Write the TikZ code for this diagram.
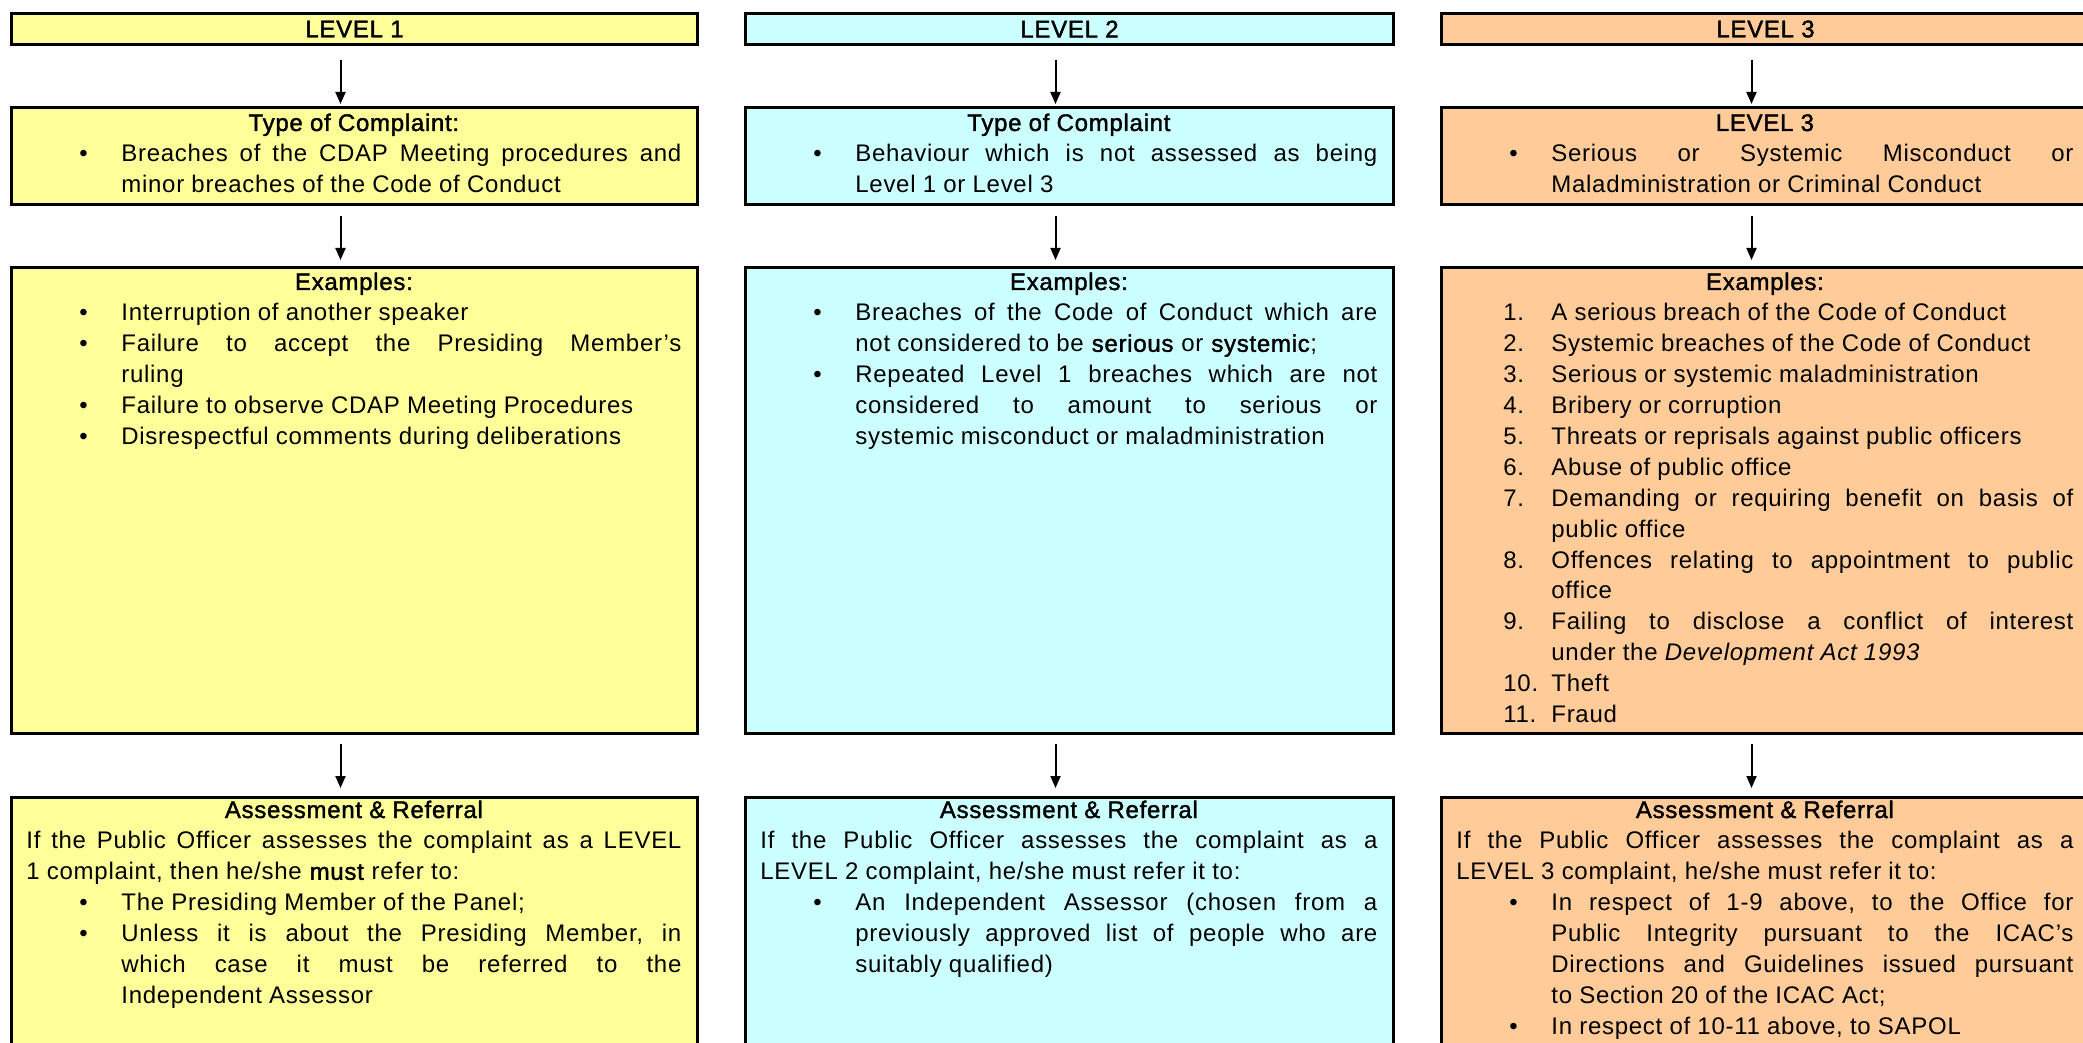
\documentclass[tikz,border=0pt]{standalone}
\usepackage{fontspec}
\setmainfont{Liberation Sans}[LetterSpace=3.0, BoldFont={Liberation Sans}, BoldFeatures={FakeBold=1.6}]
\usetikzlibrary{arrows.meta}
\definecolor{yel}{HTML}{FFFF99}
\definecolor{cya}{HTML}{CCFFFF}
\definecolor{ora}{HTML}{FFCC99}
\newdimen\px \px=0.5pt
\newcommand\boxfont{\fontsize{12pt}{15.45pt}\selectfont\spaceskip=0.3em plus 2em minus 0.05em\xspaceskip=\spaceskip\frenchspacing\tolerance=9999\pretolerance=-1\hbadness=10000\hfuzz=3pt\hyphenpenalty=10000\exhyphenpenalty=10000\parskip=0pt\parindent=0pt}
\newcommand\hd[1]{\makebox[\linewidth]{\bfseries #1}\par}
\newcommand\bul[1]{\par\hangindent=95\px\hangafter=1\noindent\hbox to 95\px{\hskip53\px\textbullet\hss}#1\par}
\newcommand\nit[2]{\par\hangindent=95\px\hangafter=1\noindent\hbox to 95\px{\hskip47\px #1\hss}#2\par}
\newcommand\para[1]{\par\noindent #1\par}
\begin{document}
\begin{tikzpicture}[x=0.5pt,y=0.5pt,
  boxbase/.style={draw=black, line width=1.5pt, rectangle, inner sep=0pt, anchor=north west},
  hdrbox/.style={boxbase, minimum height=15.5pt, font=\boxfont\bfseries},
  wide/.style={minimum width=343pt},
  narrow/.style={minimum width=324pt},
  txt/.style={anchor=base west, inner sep=0pt, font=\boxfont},
  arr/.style={line width=1pt, -{Triangle[length=6pt,width=5pt]}}]
\useasboundingbox (0,0) rectangle (2083,-1043);
\clip (0,0) rectangle (2083,-1043);
\fill[white] (0,0) rectangle (2083,-1043);

% ---------- boxes ----------
\node[hdrbox, wide, fill=yel] (h1) at (10,-12) {LEVEL 1};
\node[hdrbox, narrow, fill=cya] (h2) at (744,-12) {LEVEL 2};
\node[hdrbox, narrow, fill=ora] (h3) at (1440,-12) {LEVEL 3};

\node[boxbase, wide, minimum height=48.5pt, fill=yel] (t1) at (10,-106) {};
\node[boxbase, narrow, minimum height=48.5pt, fill=cya] (t2) at (744,-106) {};
\node[boxbase, narrow, minimum height=48.5pt, fill=ora] (t3) at (1440,-106) {};

\node[boxbase, wide, minimum height=233pt, fill=yel] (e1) at (10,-266) {};
\node[boxbase, narrow, minimum height=233pt, fill=cya] (e2) at (744,-266) {};
\node[boxbase, narrow, minimum height=233pt, fill=ora] (e3) at (1440,-266) {};

\node[boxbase, wide, minimum height=140pt, fill=yel] (a1) at (10,-796) {};
\node[boxbase, narrow, minimum height=140pt, fill=cya] (a2) at (744,-796) {};
\node[boxbase, narrow, minimum height=140pt, fill=ora] (a3) at (1440,-796) {};

% ---------- arrows ----------
\foreach \c in {1,2,3}{
  \draw[arr, shorten <=7pt, shorten >=1pt] ([xshift=-7pt]h\c.south) -- ([xshift=-7pt]t\c.north);
  \draw[arr, shorten <=5pt, shorten >=3pt] ([xshift=-7pt]t\c.south) -- ([xshift=-7pt]e\c.north);
  \draw[arr, shorten <=4.5pt, shorten >=4pt] ([xshift=-7pt]e\c.south) -- ([xshift=-7pt]a\c.north);
}

% ---------- column 1 ----------
\node[txt] (tt1) at ([shift={(16,-25)}]t1.north west) {\begin{minipage}[t]{655\px}
\hd{Type of Complaint:}
\bul{Breaches of the CDAP Meeting procedures and\linebreak minor breaches of the Code of Conduct}
\end{minipage}};

\node[txt] (et1) at ([shift={(16,-24)}]e1.north west) {\begin{minipage}[t]{655\px}
\hd{Examples:}
\bul{Interruption of another speaker}
\bul{Failure to accept the Presiding Member’s\linebreak ruling}
\bul{Failure to observe CDAP Meeting Procedures}
\bul{Disrespectful comments during deliberations}
\end{minipage}};

\node[txt] (at1) at ([shift={(16,-22)}]a1.north west) {\begin{minipage}[t]{655\px}
\hd{Assessment \& Referral}
\para{If the Public Officer assesses the complaint as a LEVEL\linebreak 1 complaint, then he/she \textbf{must} refer to:}
\bul{The Presiding Member of the Panel;}
\bul{Unless it is about the Presiding Member, in\linebreak which case it must be referred to the\linebreak Independent Assessor}
\end{minipage}};

% ---------- column 2 ----------
\node[txt] (tt2) at ([shift={(16,-25)}]t2.north west) {\begin{minipage}[t]{617\px}
\hd{Type of Complaint}
\bul{Behaviour which is not assessed as being\linebreak Level 1 or Level 3}
\end{minipage}};

\node[txt] (et2) at ([shift={(16,-24)}]e2.north west) {\begin{minipage}[t]{617\px}
\hd{Examples:}
\bul{Breaches of the Code of Conduct which are\linebreak not considered to be \textbf{serious} or \textbf{systemic};}
\bul{Repeated Level 1 breaches which are not\linebreak considered to amount to serious or\linebreak systemic misconduct or maladministration}
\end{minipage}};

\node[txt] (at2) at ([shift={(16,-22)}]a2.north west) {\begin{minipage}[t]{617\px}
\hd{Assessment \& Referral}
\para{If the Public Officer assesses the complaint as a\linebreak LEVEL 2 complaint, he/she must refer it to:}
\bul{An Independent Assessor (chosen from a\linebreak previously approved list of people who are\linebreak suitably qualified)}
\end{minipage}};

% ---------- column 3 ----------
\node[txt] (tt3) at ([shift={(16,-25)}]t3.north west) {\begin{minipage}[t]{617\px}
\hd{LEVEL 3}
\bul{Serious or Systemic Misconduct or\linebreak Maladministration or Criminal Conduct}
\end{minipage}};

\node[txt] (et3) at ([shift={(16,-24)}]e3.north west) {\begin{minipage}[t]{617\px}
\hd{Examples:}
\nit{1.}{A serious breach of the Code of Conduct}
\nit{2.}{Systemic breaches of the Code of Conduct}
\nit{3.}{Serious or systemic maladministration}
\nit{4.}{Bribery or corruption}
\nit{5.}{Threats or reprisals against public officers}
\nit{6.}{Abuse of public office}
\nit{7.}{Demanding or requiring benefit on basis of\linebreak public office}
\nit{8.}{Offences relating to appointment to public\linebreak office}
\nit{9.}{Failing to disclose a conflict of interest\linebreak under the \textit{Development Act 1993}}
\nit{10.}{Theft}
\nit{11.}{Fraud}
\end{minipage}};

\node[txt] (at3) at ([shift={(16,-22)}]a3.north west) {\begin{minipage}[t]{617\px}
\hd{Assessment \& Referral}
\para{If the Public Officer assesses the complaint as a\linebreak LEVEL 3 complaint, he/she must refer it to:}
\bul{In respect of 1-9 above, to the Office for\linebreak Public Integrity pursuant to the ICAC’s\linebreak Directions and Guidelines issued pursuant\linebreak to Section 20 of the ICAC Act;}
\bul{In respect of 10-11 above, to SAPOL}
\end{minipage}};
\end{tikzpicture}
\end{document}
